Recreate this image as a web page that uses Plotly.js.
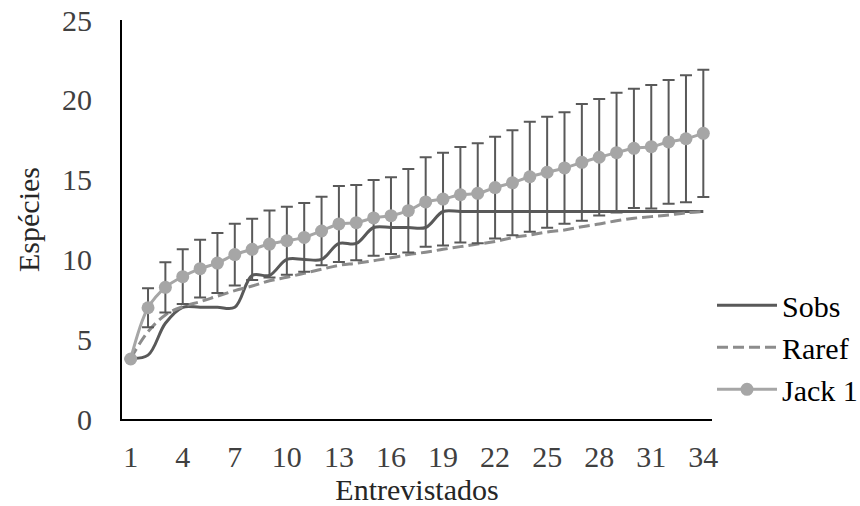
<!DOCTYPE html>
<html>
<head>
<meta charset="utf-8">
<script src="https://cdn.plot.ly/plotly-3.0.1.min.js"></script>
<style>html,body{margin:0;padding:0;background:#fff;}#chart{width:860px;height:506px;}</style>
</head>
<body>
<div id="chart"></div>
<script>
var entrevistados = [1,2,3,4,5,6,7,8,9,10,11,12,13,14,15,16,17,18,19,20,21,22,23,24,25,26,27,28,29,30,31,32,33,34];
var sobs = [3.8,4,6,7,7,7,7,9,9,10,10,10,11,11,12,12,12,12,13,13,13,13,13,13,13,13,13,13,13,13,13,13,13,13];
var raref = [3.8,5.47,6.52,7.04,7.35,7.7,8.04,8.33,8.66,8.88,9.13,9.38,9.63,9.76,9.92,10.1,10.3,10.45,10.63,10.8,10.96,11.12,11.36,11.53,11.72,11.84,12.05,12.22,12.42,12.58,12.68,12.78,12.92,13.0];
var jack1 = [3.76,6.97,8.25,8.92,9.42,9.77,10.3,10.63,10.96,11.17,11.38,11.78,12.22,12.3,12.6,12.74,13.05,13.6,13.78,14.05,14.14,14.5,14.8,15.18,15.46,15.73,16.08,16.4,16.69,16.96,17.06,17.36,17.56,17.9];
var jack1Err = [0,1.22,1.57,1.71,1.81,1.88,1.94,1.92,2.1,2.13,2.15,2.15,2.38,2.36,2.37,2.4,2.61,2.8,2.91,2.99,3.13,3.19,3.29,3.45,3.48,3.49,3.66,3.65,3.75,3.74,3.87,3.88,3.98,3.99];
var xTicks = [1,4,7,10,13,16,19,22,25,28,31,34];
var yTicks = [0,5,10,15,20,25];

var FONT = "Liberation Serif, Times New Roman, serif";

var traces = [
  {x: entrevistados, y: sobs, name: 'Sobs', type: 'scatter', mode: 'lines',
   line: {color: '#595959', width: 3, shape: 'spline', smoothing: 1}},
  {x: entrevistados, y: raref, name: 'Raref', type: 'scatter', mode: 'lines',
   line: {color: '#8c8c8c', width: 3, dash: '11px,5px', shape: 'spline', smoothing: 1}},
  {x: entrevistados, y: jack1, name: 'Jack 1', type: 'scatter', mode: 'lines+markers',
   line: {color: '#a6a6a6', width: 3, shape: 'spline', smoothing: 1},
   marker: {color: '#a6a6a6', size: 13},
   error_y: {type: 'data', array: jack1Err, visible: true, color: '#595959', thickness: 2, width: 6}}
];

var layout = {
  width: 860, height: 506,
  margin: {l: 122, r: 148, t: 20, b: 87, autoexpand: false},
  paper_bgcolor: '#fff', plot_bgcolor: '#fff',
  font: {family: FONT, size: 30, color: '#262626'},
  showlegend: true,
  legend: {x: 1.0, xanchor: 'left', y: 0.35, yanchor: 'top', font: {family: FONT, size: 30, color: '#000'},
           bgcolor: 'rgba(0,0,0,0)', itemwidth: 60, tracegroupgap: 0, borderwidth: 0},
  xaxis: {range: [0.5, 34.5], tickvals: xTicks, ticktext: xTicks.map(String), showgrid: false, zeroline: false,
          showline: true, linecolor: '#000', linewidth: 2, ticks: '', tickfont: {family: FONT, size: 30, color: '#404040'},
          ticklabelstandoff: 10,
          title: {text: 'Entrevistados', font: {family: FONT, size: 30, color: '#262626'}, standoff: 8}},
  yaxis: {range: [0, 25], tickvals: yTicks, showgrid: false, zeroline: false,
          showline: true, linecolor: '#000', linewidth: 2, ticks: '', tickfont: {family: FONT, size: 30, color: '#404040'},
          ticklabelstandoff: 22,
          title: {text: 'Espécies', font: {family: FONT, size: 30, color: '#262626'}, standoff: 14}}
};

Plotly.newPlot('chart', traces, layout, {displayModeBar: false, staticPlot: true});
</script>
</body>
</html>
